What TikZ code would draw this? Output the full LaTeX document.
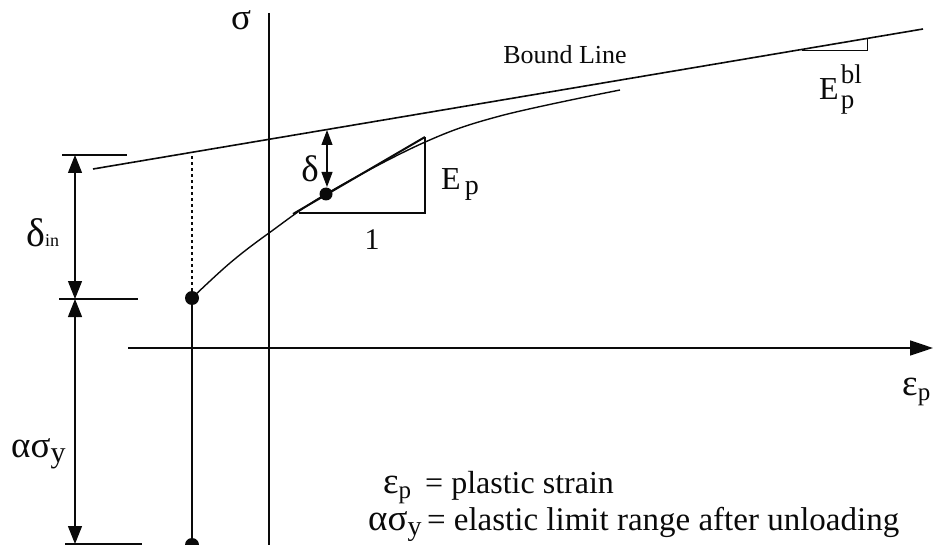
\documentclass[tikz,border=0pt]{standalone}
\usepackage{fontspec}
\setmainfont{Liberation Serif}
\usetikzlibrary{arrows.meta,calc,positioning}
\definecolor{bdInk}{RGB}{10,10,10}
\newcommand{\bdfont}[1]{\fontsize{#1}{#1}\selectfont}
\newcommand{\gk}[1]{{\bdfont{37}#1}}
\newcommand{\lowsub}[2]{#1\raisebox{-5pt}{\bdfont{25}#2}}
\tikzset{
  axisline/.style={draw=bdInk,line width=1.6pt},
  thinline/.style={draw=bdInk,line width=1.1pt},
  dimtick/.style={draw=bdInk,line width=1.1pt},
  dimarrow/.style={draw=bdInk,line width=1.1pt,
    {Triangle[length=18pt,width=14pt]}-{Triangle[length=18pt,width=14pt]}},
  statedot/.style={circle,fill=bdInk,inner sep=0pt,minimum size=14pt},
  lbl/.style={inner sep=0pt,text=bdInk,font=\bdfont{32}}
}
\begin{document}
\begin{tikzpicture}[x=1pt,y=-1pt]
  \useasboundingbox (0,0) rectangle (933,545);
  % axes
  \coordinate (sTop) at (269,13); \coordinate (sBot) at (269,545);
  \coordinate (eL) at (128,348); \coordinate (eR) at (933,348);
  \draw[axisline] (sTop)--(sBot);
  \draw[axisline,-{Triangle[length=23pt,width=15pt]}] (eL)--(eR);
  \node[lbl,anchor=base] (sigma) at (241,30) {\gk{σ}};
  \node[lbl,anchor=base west] (eps) at (902,395) {\lowsub{\gk{ε}}{p}};
  % bound line and its slope
  \coordinate (bl0) at (93,169); \coordinate (bl1) at (923,29);
  \draw[axisline] (bl0)--(bl1);
  \node[lbl,font=\bdfont{26},anchor=base] (bltext) at (565,64) {Bound Line};
  \coordinate (sl0) at (802,50); \coordinate (sl1) at (867,50); \coordinate (sl2) at (867,38);
  \draw[thinline,line width=0.8pt] (sl0)--(sl1)--(sl2);
  \node[lbl,anchor=base west] (Ebl) at (819,100)
    {E\hspace{2pt}\rlap{\raisebox{16pt}{\bdfont{27}bl}}\raisebox{-9pt}{\bdfont{27}p}};
  % state points
  \node[statedot] (pA) at (192,298) {};
  \node[statedot] (pB) at (192,545) {};
  \node[statedot,minimum size=13pt] (pC) at (326,194) {};
  \coordinate (pAup) at (192,153);
  \draw[draw=bdInk,line width=2.2pt,dash pattern=on 2.5pt off 3.5pt] (pA)--(pAup);
  \draw[thinline] (pA.center)--(pB.center);
  % hardening curve
  \draw[axisline,line width=1.4pt] plot[smooth,tension=0.6] coordinates
    {(192,298) (230,263) (269,233) (326,194) (423,143) (500,116) (620,90)};
  % tangent slope triangle
  \coordinate (tg0) at (293,214); \coordinate (tg1) at (425,137);
  \coordinate (tr0) at (299,213); \coordinate (tr1) at (425,213);
  \draw[thinline,line width=1.3pt] (tr0)--(tr1)--(tg1);
  \draw[axisline,line width=2pt] (tg0)--(tg1);
  \node[lbl,anchor=base west] (Ep) at (441,190) {E\hspace{4pt}\raisebox{-5pt}{\bdfont{28}p}};
  \node[lbl,font=\bdfont{30}] (one) at (372,240) {1};
  % distance to bound line
  \coordinate (dTop) at (327,130); \coordinate (dBot) at (327,187);
  \draw[dimarrow,{Triangle[length=15pt,width=11pt]}-{Triangle[length=15pt,width=11pt]}] (dTop)--(dBot);
  \node[lbl,anchor=base] (delta) at (310,182) {\gk{δ}};
  % dimensions on the left
  \coordinate (t0a) at (62,155); \coordinate (t0b) at (127,155);
  \coordinate (t1a) at (59,299); \coordinate (t1b) at (138,299);
  \coordinate (t2a) at (65,544); \coordinate (t2b) at (142,544);
  \draw[dimtick] (t0a)--(t0b); \draw[dimtick] (t1a)--(t1b); \draw[dimtick] (t2a)--(t2b);
  \coordinate (d0) at (75,155); \coordinate (d1) at (75,299); \coordinate (d2) at (75,544);
  \draw[dimarrow] (d0)--(d1);
  \draw[dimarrow] (d1)--(d2);
  \node[lbl,anchor=base west] (din) at (26,247) {{\bdfont{40}δ}{\bdfont{18}in}};
  \node[lbl,anchor=base west] (asy) at (11,457) {\lowsub{\gk{ασ}}{\bdfont{30}y}};
  % legend
  \node[lbl,anchor=base west] (leg1) at (383,493) {\lowsub{\gk{ε}}{p}\hspace{14pt}= plastic strain};
  \node[lbl,anchor=base west,font=\bdfont{33}] (leg2) at (368,530) {\lowsub{\gk{ασ}}{\bdfont{28}y}\,= elastic limit range after unloading};
\end{tikzpicture}
\end{document}
